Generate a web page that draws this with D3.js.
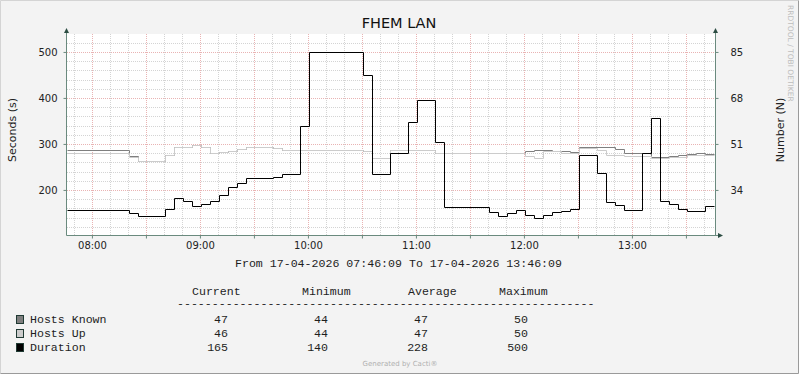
<!DOCTYPE html>
<html>
<head>
<meta charset="utf-8">
<script src="https://cdn.jsdelivr.net/npm/d3@7"></script>
<style>
body { margin: 0; background: #f3f3f3; }
#chart text { font-family: "DejaVu Sans", sans-serif; }
#chart text.mono { font-family: "Liberation Mono", monospace; font-size: 11.6px; fill: #1e1e1e; }
</style>
</head>
<body>
<div id="chart"></div>
<script>
/* chart values */
var chartTitle = "FHEM LAN";
var rangeStart = "2026-04-17 07:46:09";
var rangeEnd = "2026-04-17 13:46:09";
var seriesEnd = "13:45";
var leftTicks = [200, 300, 400, 500];
var rightTicks = [34, 51, 68, 85];
var rightFactor = 0.17;   // Number (N) = Seconds * 0.17

// [start of step, value]  -- hosts in N, duration in seconds
var hostsKnown = [
    ["07:46", 48.6], ["08:20", 46.5], ["08:25", 44.6], ["08:40", 47.0], ["08:45", 49.8],
    ["08:55", 50.6], ["09:00", 50.0], ["09:05", 47.6], ["09:10", 47.9], ["09:15", 48.4],
    ["09:20", 49.0], ["09:25", 49.8], ["09:40", 49.6], ["09:45", 48.8], ["10:30", 48.4],
    ["10:35", 45.7], ["10:45", 48.8], ["11:10", 47.6], ["12:00", 48.3], ["12:05", 48.7],
    ["12:15", 48.4], ["12:25", 47.9], ["12:30", 49.8], ["12:50", 49.0], ["12:55", 47.6],
    ["13:10", 46.1], ["13:20", 46.5], ["13:25", 46.8], ["13:30", 47.2], ["13:35", 47.6],
    ["13:40", 47.2]
];
var hostsUp = [
    ["07:46", 47.6], ["08:20", 46.1], ["08:25", 44.6], ["08:40", 47.0], ["08:45", 49.8],
    ["08:55", 50.6], ["09:00", 50.0], ["09:05", 47.6], ["09:10", 47.9], ["09:15", 48.4],
    ["09:20", 49.0], ["09:25", 49.8], ["09:40", 49.6], ["09:45", 48.8], ["10:30", 48.4],
    ["10:35", 45.7], ["10:45", 48.8], ["11:10", 47.6], ["12:00", 46.7], ["12:05", 45.7],
    ["12:10", 48.4], ["12:20", 47.7], ["12:30", 49.6], ["12:40", 48.8], ["12:45", 46.9],
    ["12:55", 46.7], ["13:10", 45.7], ["13:20", 46.1], ["13:30", 46.9]
];
var duration = [
    ["07:46", 157], ["08:20", 149], ["08:25", 143], ["08:40", 158], ["08:45", 182],
    ["08:50", 175], ["08:55", 165], ["09:00", 170], ["09:05", 175], ["09:10", 189],
    ["09:15", 207], ["09:20", 214], ["09:25", 226], ["09:40", 228], ["09:45", 235],
    ["09:55", 340], ["10:00", 500], ["10:30", 450], ["10:35", 235], ["10:45", 280],
    ["10:55", 348], ["11:00", 395], ["11:10", 304], ["11:15", 163], ["11:40", 151],
    ["11:45", 143], ["11:50", 149], ["11:55", 156], ["12:00", 145], ["12:05", 140],
    ["12:10", 145], ["12:15", 152], ["12:20", 154], ["12:25", 158], ["12:30", 276],
    ["12:40", 237], ["12:45", 174], ["12:50", 167], ["12:55", 156], ["13:05", 280],
    ["13:10", 356], ["13:15", 176], ["13:20", 170], ["13:25", 159], ["13:30", 154],
    ["13:40", 164]
];

var legendNames = ["Hosts Known", "Hosts Up", "Duration"];
var legendColors = ["#7f7f7f", "#cccccc", "#000000"];
var legendHeaders = ["Current", "Minimum", "Average", "Maximum"];
var legendStats = [
    [47, 44, 47, 50],
    [46, 44, 47, 50],
    [165, 140, 228, 500]
];

var width = 799, height = 374;
var svg = d3.select("#chart").append("svg")
    .attr("width", width)
    .attr("height", height);

// canvas + frame
svg.append("rect").attr("width", width).attr("height", height).attr("fill", "#f3f3f3");
svg.append("path").attr("d", "M0.5," + (height - 0.5) + "V0.5H" + (width - 0.5))
    .attr("fill", "none").attr("stroke", "#d4d4d4");
svg.append("path").attr("d", "M0.5," + (height - 0.5) + "H" + (width - 0.5) + "V0.5")
    .attr("fill", "none").attr("stroke", "#9a9a9a");

var plot = { left: 67, right: 715, top: 34, bottom: 235 };

var parseFull = d3.timeParse("%Y-%m-%d %H:%M:%S");
var day = rangeStart.slice(0, 10);
var t0 = parseFull(rangeStart), t1 = parseFull(rangeEnd);
function stepTime(hm) { return parseFull(day + " " + hm + ":30"); }

var x = d3.scaleTime().domain([t0, t1]).range([plot.left, plot.right]);
var y = d3.scaleLinear().domain([102, 539]).range([plot.bottom, plot.top]);
var yR = d3.scaleLinear().domain([102 * rightFactor, 539 * rightFactor]).range([plot.bottom, plot.top]);

svg.append("rect")
    .attr("x", plot.left).attr("y", plot.top)
    .attr("width", plot.right - plot.left).attr("height", plot.bottom - plot.top)
    .attr("fill", "#ffffff");

// Grid
var grid = svg.append("g").attr("id", "grid");
var minorY = d3.range(120, 540, 20).filter(function(v) { return v % 100 !== 0; });
var majorY = d3.range(200, 540, 100);
var minorX = d3.timeMinute.every(10).range(t0, t1).filter(function(d) { return d.getMinutes() % 30 !== 0; });
var majorX = d3.timeMinute.every(30).range(t0, t1);

function hLines(vals, color) {
    grid.selectAll(null).data(vals).enter().append("line")
        .attr("x1", plot.left).attr("x2", plot.right)
        .attr("y1", function(d) { return Math.round(y(d)) + 0.5; })
        .attr("y2", function(d) { return Math.round(y(d)) + 0.5; })
        .attr("stroke", color).attr("stroke-dasharray", "1,1");
}
function vLines(vals, color) {
    grid.selectAll(null).data(vals).enter().append("line")
        .attr("y1", plot.top).attr("y2", plot.bottom)
        .attr("x1", function(d) { return Math.round(x(d)) + 0.5; })
        .attr("x2", function(d) { return Math.round(x(d)) + 0.5; })
        .attr("stroke", color).attr("stroke-dasharray", "1,1");
}
hLines(minorY, "#d4d4d4");
vLines(minorX, "#d4d4d4");
hLines(majorY, "#e9b3b3");
vLines(majorX, "#e9b3b3");

// Series lines
function stepPoints(series) {
    var pts = series.map(function(d, i) {
        return { t: i === 0 ? t0 : stepTime(d[0]), v: d[1] };
    });
    pts.push({ t: stepTime(seriesEnd), v: series[series.length - 1][1] });
    return pts;
}
function stepLine(scale) {
    return d3.line()
        .x(function(d) { return Math.round(x(d.t)) + 0.5; })
        .y(function(d) { return Math.round(scale(d.v)) + 0.5; })
        .curve(d3.curveStepAfter);
}
var lines = svg.append("g").attr("id", "lines").attr("fill", "none");
lines.append("path").attr("d", stepLine(yR)(stepPoints(hostsKnown))).attr("stroke", legendColors[0]);
lines.append("path").attr("d", stepLine(yR)(stepPoints(hostsUp))).attr("stroke", legendColors[1]);
lines.append("path").attr("d", stepLine(y)(stepPoints(duration))).attr("stroke", legendColors[2]);

// Axes
var axisColor = "#6a8a7e", arrowColor = "#2c4d43";
var xAxis = d3.axisBottom(x)
    .tickValues(majorX)
    .tickSize(3)
    .tickPadding(3)
    .tickFormat(function(d) { return d.getMinutes() === 0 ? d3.timeFormat("%H:%M")(d) : ""; });
var gx = svg.append("g").attr("transform", "translate(0," + (plot.bottom + 0.5) + ")").call(xAxis);
var gl = svg.append("g").attr("transform", "translate(" + (plot.left - 0.5) + ",0)")
    .call(d3.axisLeft(y).tickValues(leftTicks).tickSize(3).tickPadding(6));
var gr = svg.append("g").attr("transform", "translate(" + (plot.right + 0.5) + ",0)")
    .call(d3.axisRight(yR).tickValues(rightTicks).tickSize(3).tickPadding(12));
[gx, gl, gr].forEach(function(g) {
    g.select(".domain").remove();
    g.selectAll(".tick line").attr("stroke", axisColor);
    g.selectAll(".tick text").attr("fill", "#222").style("font-size", "10px");
});

var axes = svg.append("g").attr("stroke", axisColor).attr("fill", "none");
axes.append("line").attr("x1", plot.left - 0.5).attr("x2", plot.left - 0.5).attr("y1", plot.bottom + 0.5).attr("y2", 31);
axes.append("line").attr("x1", plot.right + 0.5).attr("x2", plot.right + 0.5).attr("y1", plot.bottom + 0.5).attr("y2", 31);
axes.append("line").attr("x1", plot.left - 0.5).attr("x2", 719).attr("y1", plot.bottom + 0.5).attr("y2", plot.bottom + 0.5);
var arrows = svg.append("g").attr("fill", arrowColor);
arrows.append("path").attr("d", "M" + (plot.left - 3) + ",33L" + (plot.left - 0.5) + ",28L" + (plot.left + 2) + ",33Z");
arrows.append("path").attr("d", "M" + (plot.right - 2) + ",33L" + (plot.right + 0.5) + ",28L" + (plot.right + 3) + ",33Z");
arrows.append("path").attr("d", "M718," + (plot.bottom - 2) + "L723," + (plot.bottom + 0.5) + "L718," + (plot.bottom + 3) + "Z");

// Titles
svg.append("text").attr("x", 399).attr("y", 28).attr("text-anchor", "middle")
    .style("font-size", "14.5px").attr("fill", "#111").text(chartTitle);
svg.append("text").attr("transform", "translate(16,130) rotate(-90)").attr("text-anchor", "middle")
    .style("font-size", "11px").attr("fill", "#222").text("Seconds (s)");
svg.append("text").attr("transform", "translate(784,130) rotate(-90)").attr("text-anchor", "middle")
    .style("font-size", "11px").attr("fill", "#222").text("Number (N)");
svg.append("text").attr("transform", "translate(788,5) rotate(90)")
    .style("font-size", "7.5px").attr("fill", "#bdbdbd").text("RRDTOOL / TOBI OETIKER");

// Legend
var legend = svg.append("g").attr("id", "legend");
legend.append("text").attr("class", "mono").attr("x", 235).attr("y", 267)
    .text("From " + d3.timeFormat("%d-%m-%Y %H:%M:%S")(t0) + " To " + d3.timeFormat("%d-%m-%Y %H:%M:%S")(t1));

var headerX = [192, 302, 408, 499];
var valueEndX = [228, 328, 428, 528];
legend.selectAll(".hdr").data(legendHeaders).enter().append("text")
    .attr("class", "mono hdr").attr("x", function(d, i) { return headerX[i]; }).attr("y", 295)
    .text(function(d) { return d; });
legend.append("text").attr("class", "mono").attr("x", 177).attr("y", 307).text(d3.range(60).map(function() { return "-"; }).join(""));

var rows = legend.selectAll(".row").data(legendNames).enter().append("g")
    .attr("class", "row")
    .attr("transform", function(d, i) { return "translate(0," + (323 + i * 14) + ")"; });
rows.append("rect").attr("x", 16.5).attr("y", -7.5).attr("width", 7).attr("height", 8)
    .attr("fill", function(d, i) { return legendColors[i]; })
    .attr("stroke", "#1f3a33");
rows.append("text").attr("class", "mono").attr("x", 30).attr("y", 0).text(function(d) { return d; });
rows.each(function(d, i) {
    d3.select(this).selectAll(".val").data(legendStats[i]).enter().append("text")
        .attr("class", "mono val").attr("text-anchor", "end")
        .attr("x", function(v, j) { return valueEndX[j]; }).attr("y", 0)
        .text(function(v) { return v; });
});

svg.append("text").attr("x", 400).attr("y", 366).attr("text-anchor", "middle")
    .style("font-size", "7px").attr("fill", "#b0b0b0").text("Generated by Cacti®");
</script>
</body>
</html>
